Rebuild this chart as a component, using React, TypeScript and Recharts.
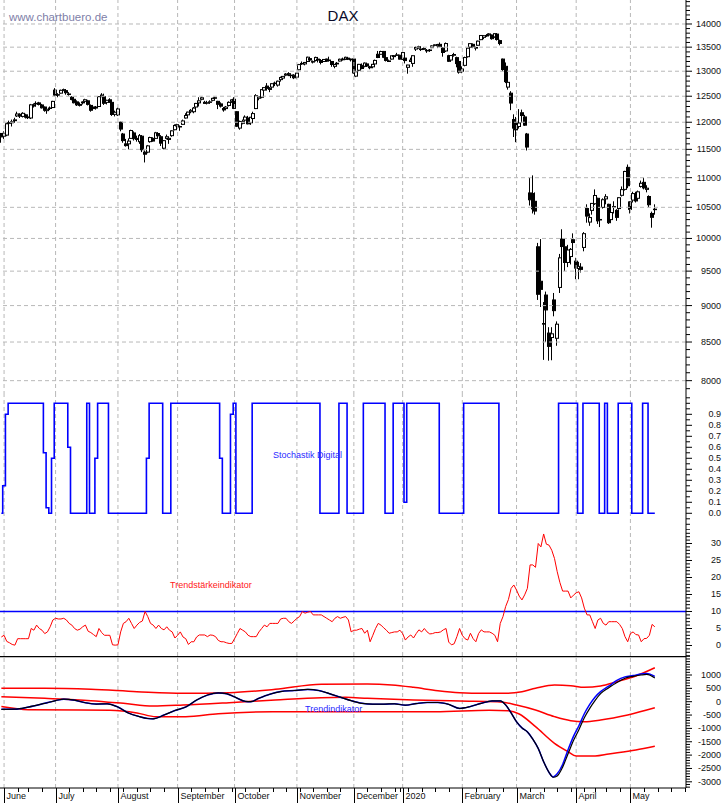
import { ComposedChart, Bar, Line, XAxis, YAxis, ReferenceLine } from 'recharts'

const FONT = '"Liberation Sans", Arial, sans-serif'
const GRID = '#b8b8b8'
const SLOTS = 253
const X_DOMAIN: [number, number] = [-0.5, SLOTS - 0.5]

// DAX daily candles [open, high, low, close], one list per month
const may19 = [[11790, 11800, 11620, 11727]]
const jun19 = [
  [11740, 11830, 11690, 11793], [11760, 11990, 11740, 11971], [11990, 12030, 11940, 11981], [11990, 12050, 11920, 12010],
  [12030, 12085, 11990, 12045], [12120, 12200, 12100, 12156], [12150, 12170, 12080, 12116], [12110, 12190, 12090, 12169],
  [12140, 12160, 12070, 12096], [12100, 12130, 12060, 12086], [12080, 12350, 12060, 12332], [12330, 12360, 12280, 12309],
  [12360, 12400, 12300, 12355], [12370, 12390, 12320, 12340], [12330, 12350, 12260, 12275], [12290, 12300, 12200, 12228],
  [12220, 12260, 12160, 12246], [12270, 12300, 12230, 12271], [12280, 12410, 12270, 12399],
]
const jul19 = [
  [12620, 12660, 12500, 12521], [12530, 12560, 12480, 12527], [12560, 12630, 12550, 12616], [12620, 12650, 12600, 12630],
  [12610, 12640, 12530, 12569], [12540, 12580, 12510, 12544], [12480, 12500, 12420, 12437], [12440, 12470, 12360, 12373],
  [12390, 12420, 12310, 12332], [12340, 12380, 12300, 12323], [12370, 12400, 12340, 12387], [12400, 12450, 12380, 12431],
  [12410, 12430, 12320, 12341], [12320, 12340, 12200, 12228], [12290, 12330, 12240, 12260], [12270, 12310, 12240, 12289],
  [12300, 12500, 12290, 12491], [12520, 12560, 12480, 12523], [12490, 12550, 12330, 12362], [12380, 12430, 12340, 12420],
  [12430, 12460, 12370, 12386], [12380, 12390, 12120, 12147], [12150, 12220, 12110, 12189],
]
const aug19 = [
  [12140, 12280, 12120, 12253], [12000, 12010, 11830, 11872], [11780, 11800, 11620, 11659], [11600, 11690, 11550, 11568],
  [11600, 11700, 11500, 11650], [11700, 11860, 11690, 11845], [11800, 11830, 11660, 11694], [11700, 11750, 11640, 11680],
  [11640, 11780, 11600, 11750], [11740, 11760, 11450, 11493], [11450, 11480, 11266, 11413], [11450, 11580, 11430, 11563],
  [11640, 11730, 11620, 11715], [11700, 11720, 11640, 11651], [11700, 11820, 11690, 11803], [11790, 11810, 11720, 11747],
  [11730, 11760, 11560, 11612], [11520, 11670, 11500, 11658], [11700, 11770, 11680, 11730], [11680, 11720, 11600, 11701],
  [11750, 11850, 11730, 11839], [11860, 11960, 11850, 11939],
]
const sep19 = [
  [11930, 11970, 11910, 11954], [11920, 11940, 11840, 11911], [11960, 12050, 11950, 12025], [12080, 12170, 12070, 12127],
  [12140, 12200, 12120, 12192], [12200, 12250, 12170, 12226], [12200, 12290, 12170, 12269], [12290, 12370, 12270, 12359],
  [12370, 12480, 12300, 12410], [12440, 12490, 12420, 12469], [12360, 12410, 12350, 12381], [12370, 12410, 12340, 12373],
  [12380, 12420, 12350, 12390], [12420, 12470, 12400, 12458], [12470, 12490, 12430, 12468], [12400, 12410, 12250, 12342],
  [12350, 12380, 12280, 12307], [12260, 12290, 12200, 12234], [12260, 12310, 12250, 12289], [12320, 12400, 12300, 12380],
  [12400, 12440, 12370, 12428],
]
const oct19 = [
  [12440, 12480, 12250, 12264], [12200, 12210, 11910, 11925], [11890, 12030, 11860, 12015], [11980, 12050, 11960, 12013],
  [12040, 12130, 12020, 12097], [12080, 12120, 11960, 11970], [11990, 12100, 11950, 12094], [12070, 12200, 11990, 12164],
  [12260, 12540, 12250, 12512], [12460, 12500, 12420, 12487], [12480, 12640, 12460, 12630], [12620, 12680, 12600, 12670],
  [12700, 12760, 12610, 12655], [12650, 12680, 12580, 12634], [12680, 12760, 12660, 12748], [12760, 12790, 12700, 12755],
  [12720, 12810, 12690, 12798], [12830, 12890, 12790, 12872], [12860, 12900, 12830, 12895], [12920, 12960, 12900, 12942],
  [12950, 12980, 12900, 12940], [12920, 12940, 12860, 12910], [12920, 12940, 12840, 12867],
]
const nov19 = [
  [12880, 12970, 12850, 12961], [13030, 13150, 13020, 13136], [13160, 13200, 13130, 13149], [13150, 13190, 13120, 13180],
  [13200, 13300, 13190, 13289], [13260, 13280, 13200, 13229], [13190, 13220, 13160, 13198], [13220, 13300, 13200, 13284],
  [13250, 13260, 13180, 13230], [13220, 13250, 13140, 13180], [13200, 13250, 13190, 13242], [13250, 13260, 13190, 13207],
  [13230, 13300, 13210, 13221], [13200, 13210, 13090, 13138], [13100, 13150, 13060, 13137], [13150, 13190, 13120, 13164],
  [13210, 13260, 13200, 13246], [13250, 13280, 13220, 13236], [13250, 13300, 13230, 13287], [13270, 13290, 13230, 13246],
  [13250, 13260, 13200, 13236],
]
const dec19 = [
  [13250, 13260, 12950, 12965], [12900, 13000, 12880, 12989], [13020, 13150, 13000, 13141], [13120, 13160, 13040, 13055],
  [13100, 13180, 13080, 13167], [13150, 13170, 13090, 13106], [13090, 13110, 13040, 13071], [13090, 13150, 13060, 13141],
  [13150, 13240, 13120, 13222], [13350, 13420, 13270, 13283], [13350, 13425, 13340, 13408], [13410, 13420, 13270, 13288],
  [13280, 13300, 13200, 13222], [13200, 13240, 13190, 13212], [13250, 13320, 13240, 13319], [13320, 13330, 13280, 13301],
  [13330, 13380, 13320, 13337], [13330, 13340, 13240, 13249],
]
const jan20 = [
  [13250, 13390, 13230, 13386], [13270, 13300, 13160, 13219], [13080, 13130, 12950, 13127], [13200, 13280, 13190, 13227],
  [13160, 13330, 13090, 13320], [13460, 13510, 13420, 13495], [13510, 13530, 13470, 13483], [13460, 13470, 13420, 13452],
  [13470, 13500, 13440, 13456], [13430, 13460, 13380, 13432], [13440, 13460, 13400, 13429], [13490, 13540, 13480, 13526],
  [13540, 13560, 13520, 13549], [13530, 13570, 13480, 13556], [13560, 13600, 13500, 13516], [13480, 13490, 13300, 13388],
  [13420, 13600, 13400, 13577], [13320, 13340, 13190, 13205], [13230, 13330, 13200, 13324], [13330, 13380, 13300, 13345],
  [13280, 13300, 13080, 13157], [13200, 13250, 12950, 12982],
]
const feb20 = [
  [13000, 13100, 12960, 13045], [13120, 13300, 13100, 13282], [13300, 13490, 13280, 13478], [13500, 13580, 13490, 13575],
  [13560, 13580, 13480, 13514], [13480, 13510, 13430, 13494], [13540, 13640, 13530, 13628], [13660, 13760, 13650, 13750],
  [13710, 13760, 13670, 13745], [13750, 13780, 13720, 13744], [13760, 13800, 13740, 13784], [13760, 13770, 13660, 13681],
  [13720, 13800, 13700, 13789], [13780, 13800, 13640, 13664], [13640, 13660, 13540, 13579], [13250, 13260, 13000, 13035],
  [13100, 13180, 12760, 12790], [12680, 12830, 12630, 12775], [12560, 12600, 12230, 12367], [12050, 12150, 11725, 11890],
]
const mar20 = [
  [12000, 12100, 11630, 11858], [11920, 12250, 11880, 11985], [12180, 12240, 11990, 12127], [12100, 12140, 11930, 11945],
  [11780, 11800, 11480, 11542], [10740, 11000, 10530, 10625], [10730, 11040, 10400, 10475], [10600, 10750, 10380, 10439],
  [9870, 9930, 9080, 9161], [9350, 9990, 8980, 9232], [8750, 9050, 8265, 8742], [9150, 9200, 8500, 8939],
  [8620, 8700, 8255, 8442], [8560, 8700, 8260, 8610], [9080, 9180, 8850, 8929], [8550, 8780, 8450, 8741],
  [9260, 9760, 9180, 9700], [9990, 10145, 9470, 9874], [9870, 10000, 9500, 9630], [9630, 9900, 9560, 9820],
  [9720, 9850, 9600, 9830], [9980, 10080, 9800, 9936],
]
const apr20 = [
  [9650, 9700, 9380, 9545], [9540, 9640, 9380, 9571], [9560, 9620, 9480, 9526], [9860, 10100, 9800, 10075],
  [10480, 10550, 10250, 10357], [10260, 10400, 10200, 10333], [10450, 10570, 10380, 10565], [10560, 10800, 10540, 10697],
  [10650, 10660, 10230, 10280], [10300, 10350, 10180, 10302], [10500, 10650, 10480, 10626], [10640, 10720, 10550, 10676],
  [10550, 10560, 10230, 10250], [10300, 10450, 10280, 10415], [10500, 10600, 10400, 10514], [10450, 10470, 10280, 10336],
  [10480, 10670, 10460, 10660], [10700, 10850, 10680, 10796], [10800, 11120, 10780, 11108], [11180, 11230, 10820, 10862],
]
const may20 = [
  [10590, 10600, 10400, 10467], [10620, 10760, 10580, 10729], [10680, 10760, 10580, 10606], [10650, 10780, 10630, 10759],
  [10850, 10950, 10830, 10904], [10920, 11000, 10800, 10825], [10800, 10870, 10750, 10820], [10680, 10700, 10500, 10543],
  [10400, 10430, 10170, 10337], [10470, 10550, 10380, 10465],
]

// Stochastik Digital, one value per trading day
const stoch = [
  0, 0.25, 0.9, 1, 1, 1, 1, 1, 1, 1, 1, 1, 1, 1, 1, 1,
  0.55, 0.05, 0, 0.5, 1, 1, 1, 1, 1, 0.6,
  0, 0, 0, 0, 0, 0, 1, 0, 0, 0.5, 1, 1, 1, 1,
  0, 0, 0, 0, 0, 0, 0, 0, 0, 0, 0, 0, 0, 0,
  0.5, 1, 1, 1, 1, 1, 0, 0, 0,
  1, 1, 1, 1, 1, 1, 1, 1, 1, 1, 1, 1, 1, 1, 1, 1, 1, 1,
  0.5, 0, 0, 0, 0.9, 1,
  0, 0, 0, 0, 0, 0,
  1, 1, 1, 1, 1, 1, 1, 1, 1, 1, 1, 1, 1, 1, 1, 1, 1, 1, 1, 1, 1, 1, 1, 1, 1,
  0, 0, 0, 0, 0, 0, 0,
  1, 1, 1,
  0, 0, 0, 0, 0, 0,
  1, 1, 1, 1, 1, 1, 1, 1,
  0, 0, 0,
  1, 1, 1, 1, 0.1,
  1, 1, 1, 1, 1, 1, 1, 1, 1, 1, 1, 1,
  0, 0, 0, 0, 0, 0, 0, 0, 0,
  1, 1, 1, 1, 1, 1, 1, 1, 1, 1, 1, 1, 1,
  0, 0, 0, 0, 0, 0, 0, 0, 0, 0, 0, 0, 0, 0, 0, 0, 0, 0, 0, 0, 0, 0,
  1, 1, 1, 1, 1, 1, 1, 0, 0,
  1, 1, 1, 1, 1, 1, 0, 0, 1, 0, 0, 0, 0,
  1, 1, 1, 1, 1, 0, 0, 0, 0, 1, 1, 0, 0, 0,
]

// Trendstärkeindikator, one value per trading day
const strength = [
  2.5, 3, 1.2, 0.8, 0.3, 0.1, 2, 2, 2, 2,
  2, 5, 4.5, 6, 5, 4.5, 3.5, 4, 5.5, 7.5,
  8, 7.8, 7.8, 8, 7.5, 6.5, 6, 5, 4.5, 4.8,
  5.5, 6, 4.2, 3.8, 3.2, 2.6, 5, 3.8, 3, 3,
  3, 0.2, 0.1, 0.2, 4, 6.5, 7, 8, 6.5, 5,
  6, 6.8, 7.2, 10, 8.5, 6.5, 6, 5, 6, 5,
  4.6, 5.5, 4.5, 4, 2.2, 3, 4, 2.5, 2, 0.3,
  1.1, 1.1, 2.5, 3.1, 3.1, 3.1, 2.6, 3.1, 3, 2.6,
  1.5, 1.1, 1.1, 0.8, 0.6, 0.6, 2, 3.5, 5, 4.5,
  4, 3, 2.6, 2.6, 2.6, 4, 5, 6, 5.5, 6.5,
  6.5, 6.5, 6.5, 7.8, 8, 8, 7, 6.5, 7.2, 8,
  8.5, 10, 9.5, 9.8, 10, 9, 9, 9, 9, 8.5,
  8, 7.5, 7, 8, 8.5, 8, 8.3, 8.5, 7.5, 4,
  4.5, 4.5, 4.8, 5, 3.6, 4.5, 1.1, 3, 5, 6.5,
  6, 5.2, 4.5, 3.6, 3.8, 4, 4, 4.5, 3.5, 1.6,
  2.5, 3.1, 2.2, 3.5, 4.6, 4, 5, 4, 3.4, 3.5,
  3.8, 3.8, 4, 4.6, 5, 1, 0.2, 0.5, 2.6, 5,
  3, 2, 1.6, 3.6, 2, 1.1, 3.5, 4.6, 4, 4,
  4, 3.6, 3, 1.1, 6.5, 8.5, 11.5, 13.5, 16.8, 17.8,
  16.3, 14.5, 13.4, 14.9, 16.8, 23.7, 23.7, 23, 30, 29,
  32.8, 29.8, 29.5, 28, 25.6, 21.7, 18.5, 16, 16, 16,
  14, 14.8, 15.5, 15.8, 14, 11, 9, 9, 7, 5,
  7.5, 8, 6.5, 6, 7, 7, 7, 7, 6.2, 5,
  2.6, 1.1, 3.5, 4, 3.2, 3.1, 1.1, 2, 2.1, 3,
  6.2, 5.5,
]

// Trendindikator: [trading day, value]
const upperBand = [
  [0, 500], [16, 500], [33, 463], [50, 376], [67, 314], [84, 339], [101, 463], [118, 651], [135, 663],
  [144, 626], [152, 538], [161, 413], [169, 339], [178, 314], [186, 314], [192, 376], [197, 501],
  [204, 626], [210, 601], [215, 538], [221, 588], [227, 750], [234, 963], [241, 1270],
]
const midBand = [
  [0, 189], [16, 126], [33, 39], [45, -61], [56, -160], [67, -123], [84, -36], [101, 64], [118, 151],
  [127, 164], [135, 126], [152, 64], [169, 27], [183, 2], [190, -123], [197, -311], [204, -560],
  [210, -710], [215, -747], [221, -685], [231, -498], [241, -230],
]
const lowerBand = [
  [0, -180], [10, -300], [40, -320], [50, -420], [57, -560], [68, -560], [80, -450], [100, -380],
  [130, -373], [160, -373], [180, -320], [187, -340], [191, -460], [197, -935], [204, -1560],
  [209, -1870], [212, -2032], [219, -2032], [224, -1958], [234, -1808], [241, -1670],
]
const trendLine = [
  [0, -285], [5, -280], [10, -200], [16, -60], [20, 40], [23, 100], [27, 60], [31, -40], [35, -90],
  [39, -80], [43, -200], [47, -430], [51, -560], [54, -630], [56, -640], [60, -500], [64, -330],
  [68, -200], [72, 60], [76, 250], [80, 330], [83, 300], [86, 180], [90, 10], [92, 0], [95, 130],
  [99, 280], [103, 380], [108, 420], [113, 460], [117, 420], [121, 300], [125, 170], [129, 40],
  [133, -60], [137, -90], [141, -90], [145, -80], [149, -130], [153, -70], [157, -30], [161, -30],
  [165, -100], [169, -250], [173, -180], [177, -60], [181, 30], [184, 30], [186, -120], [188, -420],
  [190, -750], [192, -980], [194, -1130], [196, -1400], [198, -1750], [200, -2250], [202, -2650],
  [203.5, -2830], [205, -2780], [207, -2450], [209, -1950], [211, -1450], [213, -1050], [215, -600],
  [217, -250], [219, 50], [221, 300], [224, 520], [227, 720], [230, 880], [233, 950], [236, 1000],
  [238, 1020], [241, 890],
]
const signalLine = [
  [0, -285], [5, -280], [10, -200], [16, -60], [20, 40], [23, 95], [27, 55], [31, -40], [35, -85],
  [39, -80], [43, -200], [47, -430], [51, -560], [54, -625], [56, -640], [60, -500], [64, -330],
  [68, -200], [72, 60], [76, 245], [80, 330], [83, 300], [86, 180], [90, 10], [92, 0], [95, 130],
  [99, 280], [103, 380], [108, 420], [113, 455], [117, 420], [121, 300], [125, 170], [129, 40],
  [133, -60], [137, -95], [141, -95], [145, -80], [149, -130], [153, -70], [157, -30], [161, -30],
  [165, -100], [169, -250], [173, -180], [177, -60], [181, 30], [184, 30], [186, -120], [188, -420],
  [190, -750], [192, -980], [194, -1130], [196, -1400], [198, -1750], [200, -2250], [202, -2650],
  [203.5, -2820], [205, -2700], [207, -2350], [209, -1800], [211, -1300], [213, -900], [215, -450],
  [217, -100], [219, 180], [221, 380], [224, 580], [227, 800], [230, 930], [233, 980], [236, 1040],
  [238, 1060], [241, 950],
]

// x axis: first trading day of each month, and the other week starts
const monthStarts = [1, 20, 43, 65, 86, 109, 130, 148, 170, 190, 212, 232]
const monthLabels = ['June', 'July', 'August', 'September', 'October', 'November', 'December', '2020', 'February', 'March', 'April', 'May']
const weekStarts = [
  6, 10, 15, 25, 30, 35, 40, 45, 50, 55, 60, 70, 75, 80, 85, 90, 95, 100, 105, 110, 115, 120, 125,
  135, 140, 145, 147, 150, 155, 160, 165, 175, 180, 185, 195, 200, 205, 210, 215, 219, 223, 228,
  237, 242, 247, 252,
]

const candles = [...may19, ...jun19, ...jul19, ...aug19, ...sep19, ...oct19, ...nov19, ...dec19, ...jan20, ...feb20, ...mar20, ...apr20, ...may20]
const rows = candles.map(([o, h, l, c], i) => ({ i, o, h, l, c, st: stoch[i], ts: strength[i] }))
const pts = (list: number[][]) => list.map(([i, v]) => ({ i, v }))
const xTicks = [...monthStarts, ...weekStarts].sort((a, b) => a - b)

const steps = (from: number, to: number, step: number) => {
  const out: number[] = []
  for (let v = from; v <= to + 1e-9; v += step) out.push(Math.round(v * 100) / 100)
  return out
}

function Candle(props: any) {
  const { x, y, width, height, payload } = props
  if (!payload || height == null || isNaN(y)) return null
  const { o, h, l, c } = payload
  const span = Math.log(h / l)
  const at = (v: number) => (span > 0 ? y + (height * Math.log(h / v)) / span : y)
  const cx = Math.round(x + width / 2)
  const top = at(Math.max(o, c))
  const bot = at(Math.min(o, c))
  const wx = cx - 0.5
  return (
    <g>
      <line x1={wx} x2={wx} y1={y} y2={top} stroke="#000" />
      <line x1={wx} x2={wx} y1={bot} y2={y + height} stroke="#000" />
      <rect x={cx - 1.5} y={top} width={3} height={Math.max(bot - top, 0.5)} fill={c > o ? '#fff' : '#000'} stroke="#000" />
    </g>
  )
}

const rightTick = (isMajor: (v: number) => boolean, fmt: (v: number) => string) => (props: any) => {
  const { x, y, payload } = props
  const v = payload.value
  const major = isMajor(v)
  return (
    <g>
      <line x1={x} x2={x + (major ? 6 : 4)} y1={y} y2={y} stroke="#000" />
      {major && (
        <text x={x + 35} y={y + 3} textAnchor="end" fontSize={9} fontFamily={FONT} fill="#111">{fmt(v)}</text>
      )}
    </g>
  )
}

const XTick = (props: any) => {
  const { x, y, payload } = props
  const k = monthStarts.indexOf(payload.value)
  const px = Math.round(x) + 0.5
  if (k < 0) return <line x1={px} x2={px} y1={y} y2={y + 4} stroke="#000" />
  return (
    <g>
      <line x1={px} x2={px} y1={y} y2={y + 15} stroke="#000" />
      <text x={px + 2} y={y + 11} fontSize={9} fontFamily={FONT} fill="#111">{monthLabels[k]}</text>
    </g>
  )
}

const monthGrid = monthStarts.map((m) => (
  <ReferenceLine key={'m' + m} x={m} stroke={GRID} strokeDasharray="4 3" />
))

const hiddenX = <XAxis type="number" dataKey="i" domain={X_DOMAIN} hide allowDataOverflow />
const axisProps = { orientation: 'right' as const, width: 37, tickSize: 0, tickMargin: 0, tickLine: false, axisLine: { stroke: '#000' }, interval: 0 as const, allowDataOverflow: true }

export default function App() {
  const margin = { top: 0, right: 0, bottom: 0, left: 0 }
  return (
    <div style={{ position: 'absolute', left: 0, top: 0, width: 723, height: 803, background: '#fff', overflow: 'hidden' }}>
      <div style={{ position: 'absolute', left: 0, top: 0 }}>
        <ComposedChart width={723} height={395} data={rows} margin={margin}>
          {hiddenX}
          <YAxis {...axisProps} scale="log" domain={[7822, 14537]} ticks={steps(7900, 14500, 100)}
            tick={rightTick((v) => v % 500 === 0 && v <= 14000 && v >= 8000, (v) => String(v))} />
          {[8000, 8500, 9000, 9500, 10000, 10500, 11000, 11500, 12000, 12500, 13000, 13500, 14000].map((v) => (
            <ReferenceLine key={'h' + v} y={v} stroke={GRID} strokeDasharray="4 3" />
          ))}
          {monthGrid}
          <Bar dataKey={(d: any) => [d.l, d.h]} barSize={4} shape={Candle} isAnimationActive={false} />
        </ComposedChart>
      </div>
      <div style={{ position: 'absolute', left: 0, top: 395 }}>
        <ComposedChart width={723} height={135} data={rows} margin={margin}>
          {hiddenX}
          <YAxis {...axisProps} domain={[-0.152, 1.0755]} ticks={steps(-0.15, 1.05, 0.05)}
            tick={rightTick((v) => Math.round(v * 100) % 10 === 0 && v >= 0 && v < 0.95, (v) => v.toFixed(1))} />
          {monthGrid}
          <Line dataKey="st" type="step" stroke="#0000ff" strokeWidth={1.6} dot={false} isAnimationActive={false} />
        </ComposedChart>
      </div>
      <div style={{ position: 'absolute', left: 0, top: 530 }}>
        <ComposedChart width={723} height={126} data={rows} margin={margin}>
          {hiddenX}
          <YAxis {...axisProps} domain={[-3.09, 33.97]} ticks={steps(-3, 33, 1)}
            tick={rightTick((v) => v % 5 === 0 && v >= 0 && v <= 30, (v) => String(v))} />
          {monthGrid}
          <ReferenceLine y={10} stroke="#0000ff" strokeWidth={1.5} />
          <Line dataKey="ts" type="linear" stroke="#ff0000" strokeWidth={1} dot={false} isAnimationActive={false} />
        </ComposedChart>
      </div>
      <div style={{ position: 'absolute', left: 0, top: 656 }}>
        <ComposedChart width={723} height={147} data={rows} margin={margin}>
          <XAxis type="number" dataKey="i" domain={X_DOMAIN} allowDataOverflow ticks={xTicks} interval={0}
            height={15} tickSize={0} tickMargin={0} tickLine={false} axisLine={{ stroke: '#000' }} tick={XTick} />
          <YAxis {...axisProps} domain={[-3232, 1711.6]} ticks={steps(-3200, 1700, 100)}
            tick={rightTick((v) => v % 500 === 0 && v >= -3000 && v <= 1000, (v) => String(v))} />
          {monthGrid}
          <ReferenceLine y={1690} stroke="#000" strokeWidth={1.5} />
          <Line data={pts(upperBand)} dataKey="v" type="monotone" stroke="#ff0000" strokeWidth={1.5} dot={false} isAnimationActive={false} />
          <Line data={pts(midBand)} dataKey="v" type="monotone" stroke="#ff0000" strokeWidth={1.5} dot={false} isAnimationActive={false} />
          <Line data={pts(lowerBand)} dataKey="v" type="monotone" stroke="#ff0000" strokeWidth={1.5} dot={false} isAnimationActive={false} />
          <Line data={pts(signalLine)} dataKey="v" type="monotone" stroke="#0000ff" strokeWidth={1.5} dot={false} isAnimationActive={false} />
          <Line data={pts(trendLine)} dataKey="v" type="monotone" stroke="#000" strokeWidth={1.2} dot={false} isAnimationActive={false} />
        </ComposedChart>
      </div>
      <svg width={723} height={803} style={{ position: 'absolute', left: 0, top: 0, pointerEvents: 'none' }}>
        <text x={9} y={21} fontSize={11.5} fontFamily={FONT} fill="#8080a8">www.chartbuero.de</text>
        <text x={343} y={21} textAnchor="middle" fontSize={15} fontFamily={FONT} fill="#0a0a2a">DAX</text>
        <text x={273} y={458} fontSize={9} fontFamily={FONT} fill="#2a2aff">Stochastik Digital</text>
        <text x={170} y={588} fontSize={9} fontFamily={FONT} fill="#ff2020">Trendstärkeindikator</text>
        <text x={305} y={712} fontSize={9} fontFamily={FONT} fill="#2a2aff">Trendindikator</text>
      </svg>
    </div>
  )
}
